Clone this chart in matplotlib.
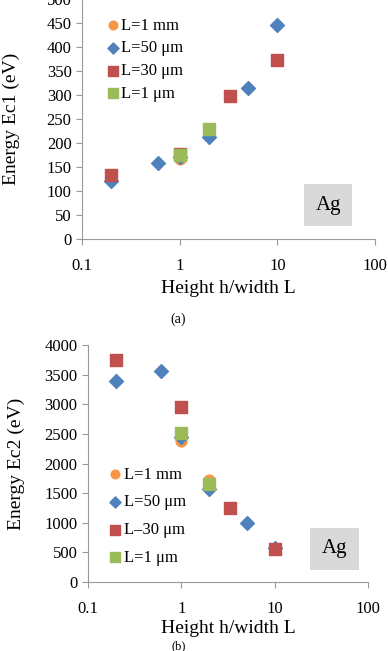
import numpy as np
import matplotlib
matplotlib.use("Agg")
from matplotlib import pyplot as plt

plt.rcParams['font.family'] = ['Liberation Serif', 'DejaVu Serif']

# Ec1 data (top panel)
x1_mm = [1]
y1_mm = [167]
x1_50 = [0.2, 0.6, 1, 2, 5, 10]
y1_50 = [120, 159, 170, 212, 314, 446]
x1_30 = [0.2, 1, 3.3, 10]
y1_30 = [134, 176, 297, 372]
x1_1 = [1, 2]
y1_1 = [174, 230]

# Ec2 data (bottom panel)
x2_mm = [1, 2]
y2_mm = [2385, 1730]
x2_50 = [0.2, 0.6, 1, 2, 5, 10]
y2_50 = [3390, 3565, 2450, 1565, 990, 580]
x2_30 = [0.2, 1, 3.3, 10]
y2_30 = [3755, 2955, 1245, 550]
x2_1 = [1, 2]
y2_1 = [2520, 1650]

labels1 = ['L=1 mm', 'L=50 μm', 'L=30 μm', 'L=1 μm']
labels2 = ['L=1 mm', 'L=50 μm', 'L–30 μm', 'L=1 μm']

orange = '#F79646'
blue = '#4F81BD'
red = '#C0504D'
green = '#9BBB59'
gray = '#9A9A9A'

fig = plt.figure(figsize=(3.88, 6.51), dpi=100)


def panel(ax, data, labels, ymax, ystep, ylabel, agx, agy, ypad, xpad):
    (xa, ya), (xb, yb), (xc, yc), (xd, yd) = data
    ax.scatter(xa, ya, s=60, marker='o', color=orange, label=labels[0], zorder=3)
    ax.scatter(xb, yb, s=50, marker='D', color=blue, label=labels[1], zorder=3)
    ax.scatter(xc, yc, s=80, marker='s', color=red, label=labels[2], zorder=3)
    ax.scatter(xd, yd, s=80, marker='s', color=green, label=labels[3], zorder=3)
    ax.set_xscale('log')
    ax.set_xlim(0.1, 100)
    ax.set_ylim(0, ymax)
    ax.set_yticks(np.arange(0, ymax + 1, ystep))
    ax.set_xticks([0.1, 1, 10, 100])
    ax.set_xticklabels(['0.1', '1', '10', '100'])
    ax.xaxis.set_minor_locator(matplotlib.ticker.NullLocator())
    for s in ['top', 'right']:
        ax.spines[s].set_visible(False)
    for s in ['left', 'bottom']:
        ax.spines[s].set_color(gray)
    ax.tick_params(colors=gray, labelcolor='black', labelsize=12, length=4)
    ax.tick_params(axis='x', pad=10)
    ax.set_xlabel('Height h/width L', fontsize=14, labelpad=xpad)
    ax.set_ylabel(ylabel, fontsize=14, labelpad=ypad)
    ax.text(agx, agy, 'Ag', transform=ax.transAxes, fontsize=15,
            ha='center', va='center',
            bbox=dict(boxstyle='square,pad=0.55', facecolor='#D9D9D9', edgecolor='none'))


ax1 = fig.add_axes([0.2113, 0.6329, 0.7552, 0.3687])
panel(ax1, [(x1_mm, y1_mm), (x1_50, y1_50), (x1_30, y1_30), (x1_1, y1_1)],
      labels1, 500, 50, 'Energy Ec1 (eV)', 0.84, 0.14, 19, 4)
ax1.legend(loc='upper left', bbox_to_anchor=(0.06, 0.95), frameon=False,
           fontsize=12, handletextpad=0.1, handlelength=0.8, labelspacing=0.4,
           markerscale=0.8, borderaxespad=0)

ax2 = fig.add_axes([0.2268, 0.106, 0.7217, 0.364])
panel(ax2, [(x2_mm, y2_mm), (x2_50, y2_50), (x2_30, y2_30), (x2_1, y2_1)],
      labels2, 4000, 500, 'Energy Ec2 (eV)', 0.88, 0.14, 14, 2)
ax2.legend(loc='upper left', bbox_to_anchor=(0.05, 0.515), frameon=False,
           fontsize=12, handletextpad=0.1, handlelength=0.8, labelspacing=0.7,
           markerscale=0.8, borderaxespad=0)

fig.text(0.46, 1 - 319 / 651, '(a)', ha='center', va='center', fontsize=10)
fig.text(0.46, 1 - 646 / 651, '(b)', ha='center', va='center', fontsize=9)

fig.savefig('out.png', dpi=100)
